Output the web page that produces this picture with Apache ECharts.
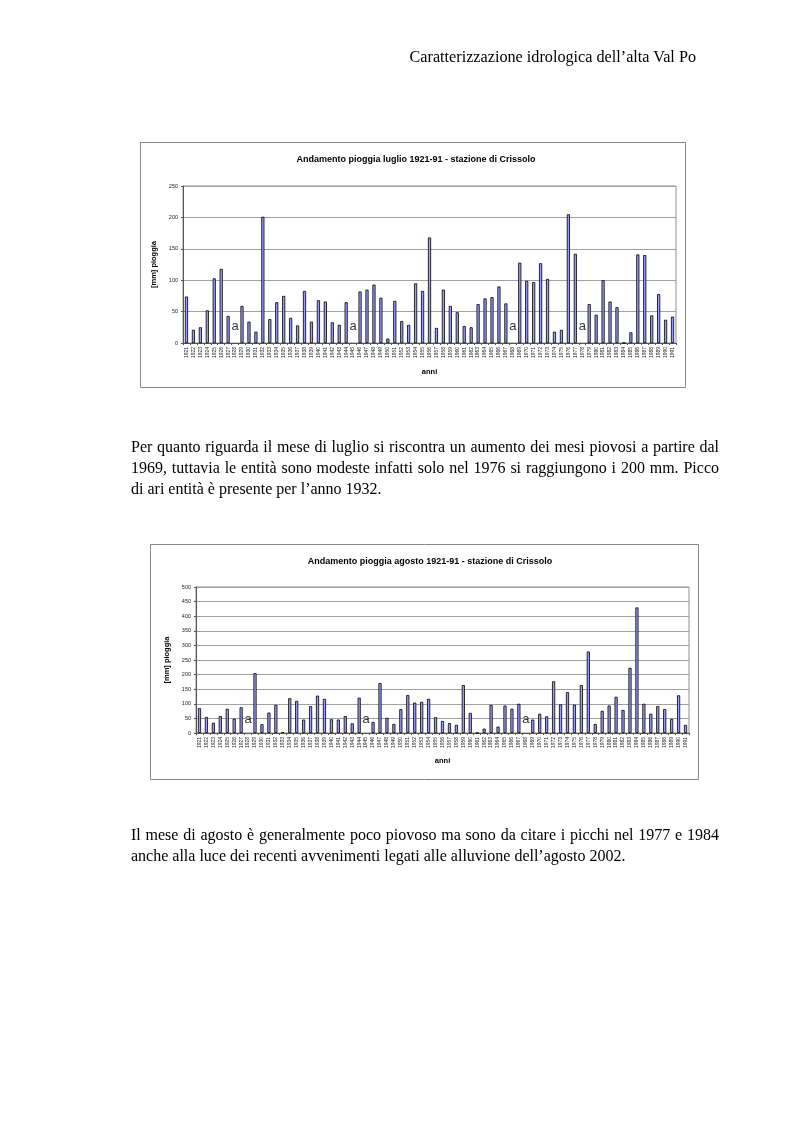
<!DOCTYPE html>
<html>
<head>
<meta charset="utf-8">
<script src="https://cdn.jsdelivr.net/npm/echarts@6/dist/echarts.min.js"></script>
<style>
  html, body { margin: 0; padding: 0; background: #fff; }
  #page { position: relative; width: 793px; height: 1123px; overflow: hidden; }
  #chart { position: absolute; left: 0; top: 0; width: 793px; height: 1123px; }
  .txt { position: absolute; font-family: "Liberation Serif", "DejaVu Serif", serif; color: #000; font-size: 16px; }
  .par { width: 588px; line-height: 21px; }
  .par span { display: block; text-align: justify; text-align-last: justify; white-space: nowrap; }
  .par span.last { text-align-last: left; }
</style>
</head>
<body>
<div id="page">
  <div id="chart"></div>
  <div class="txt" style="left:360px; top:48px; width:336px; text-align:right; font-size:16.2px;">Caratterizzazione idrologica dell’alta Val Po</div>
  <div class="txt par" style="left:131px; top:436px;">
    <span>Per quanto riguarda il mese di luglio si riscontra un aumento dei mesi piovosi a partire dal</span>
    <span>1969, tuttavia le entità sono modeste infatti solo nel 1976 si raggiungono i 200 mm. Picco</span>
    <span class="last">di ari entità è presente per l’anno 1932.</span>
  </div>
  <div class="txt par" style="left:131px; top:824px;">
    <span>Il mese di agosto è generalmente poco piovoso ma sono da citare i picchi nel 1977 e 1984</span>
    <span class="last">anche alla luce dei recenti avvenimenti legati alle alluvione dell’agosto 2002.</span>
  </div>
</div>
<script>
// ---- data ----
const years = [];
for (let y = 1921; y <= 1991; y++) years.push(String(y));

const titleJuly = 'Andamento pioggia luglio 1921-91 - stazione di Crissolo';
const titleAug = 'Andamento pioggia agosto 1921-91 - stazione di Crissolo';
const yAxisName = '[mm] pioggia';
const xAxisName = 'anni';
const missingLabel = 'a';

// July rainfall [mm], 1921..1991 (null = missing "a")
const julyValues = [
  74, 21, 25, 52, 103, 118, 43, null, 59, 34,
  18, 201, 38, 65, 75, 40, 28, 83, 34, 68,
  66, 33, 29, 65, null, 82, 85, 93, 72, 7,
  67, 35, 29, 95, 83, 168, 24, 85, 59, 49,
  27, 25, 62, 71, 73, 90, 63, null, 128, 99,
  97, 127, 102, 18, 21, 205, 142, null, 62, 45,
  100, 66, 57, 0, 17, 141, 140, 44, 78, 37,
  42
];
const julyMissing = ['1928', '1945', '1968', '1978'];

// August rainfall [mm], 1921..1991
const augValues = [
  85, 55, 35, 58, 83, 49, 88, null, 205, 30,
  70, 96, 3, 119, 110, 46, 92, 128, 117, 47,
  46, 58, 33, 121, null, 38, 171, 52, 31, 82,
  130, 104, 107, 117, 54, 41, 34, 28, 164, 69,
  0, 15, 96, 22, 94, 83, 100, null, 46, 66,
  57, 177, 98, 140, 97, 164, 279, 31, 76, 94,
  124, 79, 223, 430, 100, 66, 92, 82, 48, 129,
  28
];
const augMissing = ['1928', '1945', '1968'];

// ---- chart ----
const chart = echarts.init(document.getElementById('chart'), null, { renderer: 'canvas' });
const sans = 'Liberation Sans, Arial, sans-serif';
const barColor = '#9999ff';

function yAxis(gridIndex, max, nameGap) {
  return {
    gridIndex, type: 'value', min: 0, max, interval: 50,
    name: yAxisName, nameLocation: 'middle', nameGap,
    nameTextStyle: { fontFamily: sans, fontSize: 7.5, fontWeight: 'bold', color: '#000' },
    axisLine: { show: true, lineStyle: { color: '#555', width: 1 } },
    axisTick: { show: true, length: 2, lineStyle: { color: '#555' } },
    axisLabel: { fontFamily: sans, fontSize: 5.5, color: '#222', margin: 5 },
    splitLine: { show: true, lineStyle: { color: '#a0a0a0', width: 1 } }
  };
}
function xAxis(gridIndex, nameGap) {
  return {
    gridIndex, type: 'category', data: years, boundaryGap: true,
    name: xAxisName, nameLocation: 'middle', nameGap,
    nameTextStyle: { fontFamily: sans, fontSize: 7.5, fontWeight: 'bold', color: '#000' },
    axisLine: { show: true, onZero: true, lineStyle: { color: '#555', width: 1 } },
    axisTick: { show: true, alignWithLabel: false, interval: 0, length: 2, lineStyle: { color: '#555' } },
    axisLabel: { interval: 0, rotate: 90, fontFamily: sans, fontSize: 5, color: '#222', margin: 4 },
    splitLine: { show: false }
  };
}
function barSeries(idx, values) {
  return {
    type: 'bar', xAxisIndex: idx, yAxisIndex: idx, data: values,
    barWidth: '45%',
    itemStyle: { color: barColor, borderColor: '#000', borderWidth: 0.8 },
    animation: false
  };
}
function missingSeries(idx, cats, labelY) {
  return {
    type: 'scatter', xAxisIndex: idx, yAxisIndex: idx,
    data: cats.map(c => [c, labelY]),
    symbolSize: 0, silent: true, animation: false,
    label: { show: true, position: 'inside', formatter: missingLabel,
             fontFamily: sans, fontSize: 13, color: '#000' }
  };
}

chart.setOption({
  animation: false,
  title: [
    { text: titleJuly, left: 411, top: 150, textAlign: 'center',
      textStyle: { fontFamily: sans, fontSize: 9, fontWeight: 'bold', color: '#000' } },
    { text: titleAug, left: 425, top: 552, textAlign: 'center',
      textStyle: { fontFamily: sans, fontSize: 9, fontWeight: 'bold', color: '#000' } }
  ],
  graphic: [
    { type: 'rect', shape: { x: 140.5, y: 142.5, width: 545, height: 245 },
      style: { fill: null, stroke: '#888', lineWidth: 1 }, z: -1 },
    { type: 'rect', shape: { x: 150.5, y: 544.5, width: 548, height: 235 },
      style: { fill: null, stroke: '#888', lineWidth: 1 }, z: -1 }
  ],
  grid: [
    { left: 183, top: 186, width: 493, height: 157, show: true, borderColor: '#909090', borderWidth: 1, backgroundColor: 'transparent' },
    { left: 196, top: 587, width: 493, height: 146, show: true, borderColor: '#909090', borderWidth: 1, backgroundColor: 'transparent' }
  ],
  xAxis: [xAxis(0, 25), xAxis(1, 24)],
  yAxis: [yAxis(0, 250, 22), yAxis(1, 500, 22)],
  series: [
    barSeries(0, julyValues),
    missingSeries(0, julyMissing, 26),
    barSeries(1, augValues),
    missingSeries(1, augMissing, 48)
  ]
});
</script>
</body>
</html>
